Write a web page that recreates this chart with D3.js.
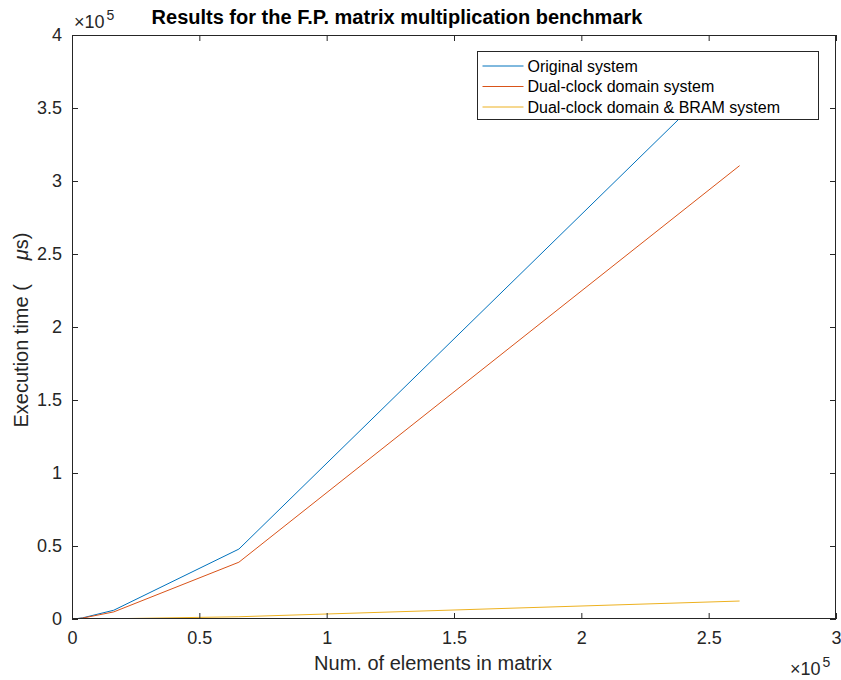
<!DOCTYPE html>
<html>
<head>
<meta charset="utf-8">
<script src="https://cdn.jsdelivr.net/npm/d3@7"></script>
<style>
  body { margin: 0; background: #fff; }
  text { font-family: "Liberation Sans", Arial, sans-serif; fill: #262626; }
</style>
</head>
<body>
<div id="chart"></div>
<script>
// Données
const elements = [1024, 4096, 16384, 65536, 262144];
const original = [94, 750, 6000, 47900, 383000];
const dualClock = [76, 605, 4850, 38900, 310500];
const dualClockBram = [3, 24, 192, 1540, 12300];
const seriesNames = ["Original system", "Dual-clock domain system", "Dual-clock domain & BRAM system"];
const seriesColors = ["#0072BD", "#D95319", "#EDB120"];
const xTicks = [0, 0.5e5, 1e5, 1.5e5, 2e5, 2.5e5, 3e5];
const yTicks = [0, 0.5e5, 1e5, 1.5e5, 2e5, 2.5e5, 3e5, 3.5e5, 4e5];

const width = 841, height = 680;
const margin = { left: 72, right: 5, top: 35, bottom: 61 };
const innerW = width - margin.left - margin.right;
const innerH = height - margin.top - margin.bottom;

const svg = d3.select("#chart").append("svg")
  .attr("width", width)
  .attr("height", height);

const x = d3.scaleLinear().domain([0, 3e5]).range([margin.left, margin.left + innerW]);
const y = d3.scaleLinear().domain([0, 4e5]).range([margin.top + innerH, margin.top]);

const fmt = d => d3.format("~g")(d / 1e5);
const axisColor = "#262626";

// Clip pour les courbes
svg.append("clipPath").attr("id", "clip")
  .append("rect")
  .attr("x", margin.left).attr("y", margin.top)
  .attr("width", innerW).attr("height", innerH);

// Courbes
const series = [original, dualClock, dualClockBram];
const line = d3.line()
  .x((d, i) => x(elements[i]))
  .y(d => y(d));

svg.append("g").attr("clip-path", "url(#clip)")
  .selectAll("path")
  .data(series)
  .enter().append("path")
  .attr("fill", "none")
  .attr("stroke", (d, i) => seriesColors[i])
  .attr("stroke-width", 1)
  .attr("d", line);

// Axes (boîte complète, graduations vers l'intérieur)
function styleAxis(g) {
  g.select(".domain").remove();
  g.selectAll(".tick line").attr("stroke", axisColor);
  g.selectAll(".tick text").style("font-size", "18px").attr("fill", axisColor);
}

svg.append("g")
  .attr("transform", `translate(0,${margin.top + innerH})`)
  .call(d3.axisBottom(x).tickValues(xTicks).tickFormat(fmt).tickSizeInner(-6).tickSizeOuter(0).tickPadding(12))
  .call(styleAxis);

svg.append("g")
  .attr("transform", `translate(0,${margin.top})`)
  .call(d3.axisTop(x).tickValues(xTicks).tickFormat("").tickSizeInner(-6).tickSizeOuter(0))
  .call(styleAxis);

svg.append("g")
  .attr("transform", `translate(${margin.left},0)`)
  .call(d3.axisLeft(y).tickValues(yTicks).tickFormat(fmt).tickSizeInner(-6).tickSizeOuter(0).tickPadding(10))
  .call(styleAxis);

svg.append("g")
  .attr("transform", `translate(${margin.left + innerW},0)`)
  .call(d3.axisRight(y).tickValues(yTicks).tickFormat("").tickSizeInner(-6).tickSizeOuter(0))
  .call(styleAxis);

svg.append("rect")
  .attr("x", margin.left + 0.5).attr("y", margin.top + 0.5)
  .attr("width", innerW - 1).attr("height", innerH - 1)
  .attr("fill", "none")
  .attr("stroke", axisColor)
  .attr("stroke-width", 1);

// Multiplicateurs ×10^5
function exponent(xp, yp) {
  const t = svg.append("text").attr("x", xp).attr("y", yp).style("font-size", "18px");
  t.append("tspan").text("×10");
  t.append("tspan").attr("dx", 2).attr("dy", -8).style("font-size", "14px").text("5");
}
exponent(74, 28);
exponent(790, 675);

// Titre
svg.append("text")
  .attr("x", 397)
  .attr("y", 24)
  .attr("text-anchor", "middle")
  .style("font-size", "20px")
  .style("font-weight", "bold")
  .style("fill", "#000")
  .text("Results for the F.P. matrix multiplication benchmark");

// Libellés des axes
svg.append("text")
  .attr("x", 433)
  .attr("y", 670)
  .attr("text-anchor", "middle")
  .style("font-size", "20px")
  .text("Num. of elements in matrix");

const yl = svg.append("text")
  .attr("transform", `translate(28,330) rotate(-90)`)
  .attr("text-anchor", "middle")
  .style("font-size", "20px");
yl.append("tspan").text("Execution time (");
yl.append("tspan").attr("dx", 24).style("font-style", "italic").text("μ");
yl.append("tspan").text("s)");

// Légende
const lg = svg.append("g").attr("transform", "translate(477.5,51.5)");
lg.append("rect")
  .attr("width", 341).attr("height", 68)
  .attr("fill", "#fff")
  .attr("stroke", axisColor)
  .attr("stroke-width", 1);

const item = lg.selectAll(".item")
  .data(seriesNames)
  .enter().append("g")
  .attr("class", "item")
  .attr("transform", (d, i) => `translate(0,${14.5 + i * 20.5})`);

item.append("line")
  .attr("x1", 5).attr("x2", 46)
  .attr("stroke", (d, i) => seriesColors[i])
  .attr("stroke-width", 1);

item.append("text")
  .attr("x", 50)
  .attr("dy", "0.35em")
  .style("font-size", "16px")
  .style("fill", "#000")
  .text(d => d);
</script>
</body>
</html>
